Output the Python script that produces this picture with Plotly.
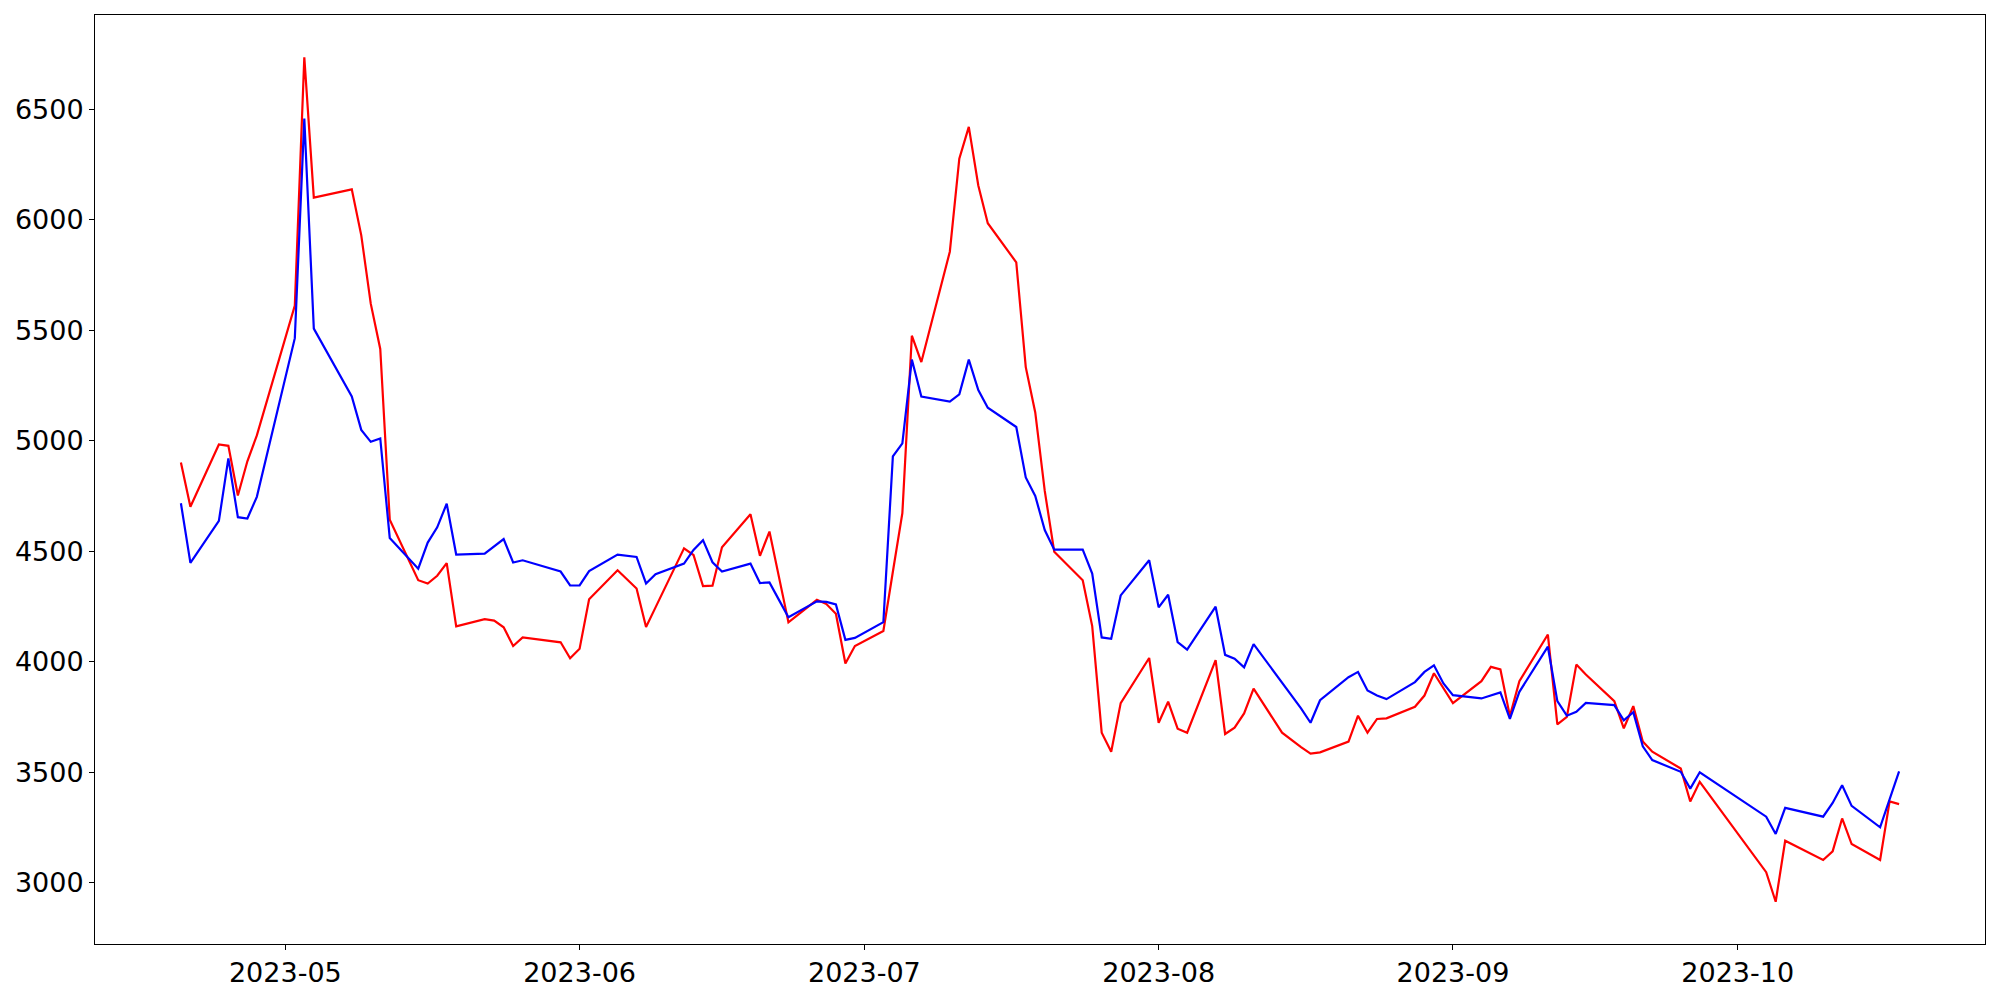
"""Two daily series (red and blue), Apr-Oct 2023, drawn as plain lines"""
import pandas as pd
import plotly.graph_objects as go

# Trading days (weekends and holidays are absent)
DATES = [
    "2023-04-20", "2023-04-21", "2023-04-24", "2023-04-25", "2023-04-26", "2023-04-27", "2023-04-28",
    "2023-05-02", "2023-05-03", "2023-05-04", "2023-05-08", "2023-05-09", "2023-05-10", "2023-05-11",
    "2023-05-12", "2023-05-15", "2023-05-16", "2023-05-17", "2023-05-18", "2023-05-19", "2023-05-22",
    "2023-05-23", "2023-05-24", "2023-05-25", "2023-05-26", "2023-05-30", "2023-05-31",
    "2023-06-01", "2023-06-02", "2023-06-05", "2023-06-07", "2023-06-08", "2023-06-09", "2023-06-12",
    "2023-06-13", "2023-06-14", "2023-06-15", "2023-06-16", "2023-06-19", "2023-06-20", "2023-06-21",
    "2023-06-22", "2023-06-23", "2023-06-26", "2023-06-27", "2023-06-28", "2023-06-29", "2023-06-30",
    "2023-07-03", "2023-07-04", "2023-07-05", "2023-07-06", "2023-07-07", "2023-07-10", "2023-07-11",
    "2023-07-12", "2023-07-13", "2023-07-14", "2023-07-17", "2023-07-18", "2023-07-19", "2023-07-20",
    "2023-07-21", "2023-07-24", "2023-07-25", "2023-07-26", "2023-07-27", "2023-07-28", "2023-07-31",
    "2023-08-01", "2023-08-02", "2023-08-03", "2023-08-04", "2023-08-07", "2023-08-08", "2023-08-09",
    "2023-08-10", "2023-08-11", "2023-08-14", "2023-08-16", "2023-08-17", "2023-08-18", "2023-08-21",
    "2023-08-22", "2023-08-23", "2023-08-24", "2023-08-25", "2023-08-28", "2023-08-29", "2023-08-30",
    "2023-08-31",
    "2023-09-01", "2023-09-04", "2023-09-05", "2023-09-06", "2023-09-07", "2023-09-08", "2023-09-11",
    "2023-09-12", "2023-09-13", "2023-09-14", "2023-09-15", "2023-09-18", "2023-09-19", "2023-09-20",
    "2023-09-21", "2023-09-22", "2023-09-25", "2023-09-26", "2023-09-27",
    "2023-10-04", "2023-10-05", "2023-10-06", "2023-10-10", "2023-10-11", "2023-10-12", "2023-10-13",
    "2023-10-16", "2023-10-17", "2023-10-18",
]

RED_VALUES = [
    4902, 4702, 4984, 4978, 4753, 4908, 5025,
    5612, 6736, 6101, 6138, 5930, 5621, 5416, 4644, 4370, 4355, 4390, 4447, 4161, 4194,
    4187, 4157, 4072, 4111, 4089, 4017,
    4060, 4284, 4415, 4332, 4158, 4247, 4514, 4484, 4343, 4345, 4519, 4668, 4480, 4590,
    4381, 4179, 4281, 4262, 4218, 3993, 4072,
    4140, 4408, 4673, 5476, 5357, 5856, 6277, 6421, 6156, 5985, 5808, 5334, 5129, 4774,
    4499, 4370, 4162, 3680, 3594, 3814, 4018,
    3725, 3820, 3698, 3680, 4008, 3674, 3703, 3767, 3879, 3680, 3615, 3585, 3591, 3640,
    3757, 3680, 3742, 3745, 3797, 3848, 3949, 3879,
    3814, 3913, 3978, 3966, 3755, 3913, 4124, 3718, 3751, 3988, 3943, 3823, 3700, 3800,
    3640, 3594, 3518, 3369, 3458,
    3049, 2915, 3191, 3104, 3143, 3292, 3176, 3104, 3369, 3357,
]

BLUE_VALUES = [
    4718, 4448, 4638, 4921, 4655, 4649, 4747,
    5465, 6458, 5508, 5201, 5050, 4996, 5011, 4561, 4422, 4540, 4609, 4716, 4486, 4490,
    4523, 4556, 4450, 4460, 4409, 4346,
    4346, 4411, 4486, 4475, 4355, 4397, 4445, 4507, 4551, 4451, 4409, 4445, 4357, 4360,
    4281, 4202, 4274, 4272, 4260, 4100, 4109,
    4180, 4930, 4989, 5368, 5201, 5178, 5211, 5368, 5230, 5150, 5063, 4835, 4751, 4597,
    4508, 4508, 4400, 4111, 4105, 4301, 4460,
    4247, 4304, 4090, 4056, 4250, 4032, 4015, 3976, 4081, 3906, 3790, 3725, 3827, 3931,
    3955, 3871, 3848, 3832, 3909, 3955, 3985, 3903,
    3850, 3835, 3847, 3862, 3742, 3865, 4069, 3823, 3757, 3775, 3815, 3805, 3736, 3773,
    3618, 3556, 3503, 3427, 3501,
    3300, 3222, 3340, 3300, 3362, 3442, 3349, 3252, 3375, 3505,
]

X_TICKS = ["2023-05-01", "2023-06-01", "2023-07-01", "2023-08-01", "2023-09-01", "2023-10-01"]
X_TICK_LABELS = ["2023-05", "2023-06", "2023-07", "2023-08", "2023-09", "2023-10"]
Y_TICKS = [3000, 3500, 4000, 4500, 5000, 5500, 6000, 6500]

MARGIN_FRAC = 0.05


def padded_range(lo, hi, frac=MARGIN_FRAC):
    """Range with a small margin on both sides, like matplotlib's autoscale"""
    pad = (hi - lo) * frac
    return [lo - pad, hi + pad]


def build_figure():
    dates = pd.to_datetime(DATES)

    # Red drawn first, blue on top
    fig = go.Figure()
    fig.add_trace(go.Scatter(x=dates, y=RED_VALUES, mode="lines",
                             line=dict(color="#ff0000", width=2.2)))
    fig.add_trace(go.Scatter(x=dates, y=BLUE_VALUES, mode="lines",
                             line=dict(color="#0000ff", width=2.2)))

    x_lo, x_hi = padded_range(dates.min(), dates.max())
    all_values = RED_VALUES + BLUE_VALUES
    y_range = padded_range(min(all_values), max(all_values))

    axis_style = dict(
        showgrid=False,
        zeroline=False,
        showline=True,
        linecolor="black",
        linewidth=1,
        mirror=True,
        ticks="outside",
        ticklen=5,
        tickwidth=1,
        tickcolor="black",
    )

    fig.update_layout(
        width=2000,
        height=1000,
        margin=dict(l=95, r=15, t=15, b=53),
        paper_bgcolor="white",
        plot_bgcolor="white",
        showlegend=False,
        font=dict(family="DejaVu Sans", size=27, color="black"),
    )
    fig.update_xaxes(
        range=[x_lo.isoformat(), x_hi.isoformat()],
        tickmode="array",
        tickvals=X_TICKS,
        ticktext=X_TICK_LABELS,
        **axis_style,
    )
    fig.update_yaxes(
        range=y_range,
        tickmode="array",
        tickvals=Y_TICKS,
        **axis_style,
    )
    return fig


fig = build_figure()
fig.write_html(
    "out.html",
    config={"displayModeBar": False},
    post_script="document.body.style.margin='0';",
)
